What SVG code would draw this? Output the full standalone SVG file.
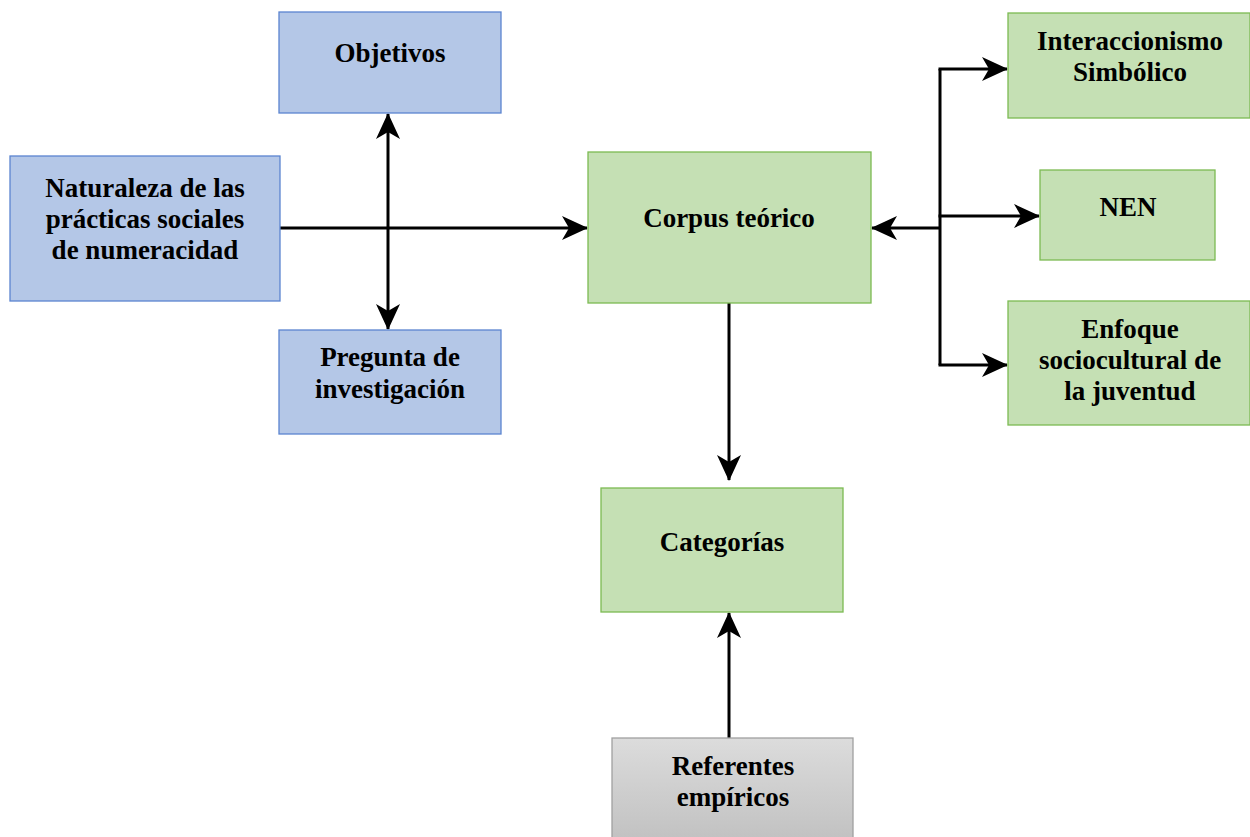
<svg xmlns="http://www.w3.org/2000/svg" width="1250" height="837" viewBox="0 0 1250 837">
<style>
.blue{fill:#b4c7e7;stroke:#5b84d0;stroke-width:1.3}
.green{fill:#c5e0b4;stroke:#7cbb52;stroke-width:1.3}
.gray{fill:url(#gg);stroke:#a0a0a0;stroke-width:1.3}
text{font-family:"Liberation Serif","Times New Roman",serif;font-weight:bold;font-size:27px;fill:#000;text-anchor:middle}
.c line,.c polyline{stroke:#000;stroke-width:3;fill:none}
</style>
<defs>
<linearGradient id="gg" x1="0" y1="0" x2="0" y2="1">
<stop offset="0" stop-color="#dcdcdc"/>
<stop offset="1" stop-color="#c2c2c2"/>
</linearGradient>
<marker id="ah" viewBox="0 0 26 24" refX="25" refY="12" markerWidth="26" markerHeight="24" markerUnits="userSpaceOnUse" orient="auto-start-reverse">
<path d="M0,0 L26,12 L0,24 L7,12 z" fill="#000"/>
</marker>
</defs>
<g class="c">
<line x1="280" y1="228" x2="587" y2="228" marker-end="url(#ah)"/>
<line x1="388" y1="114" x2="388" y2="329" marker-start="url(#ah)" marker-end="url(#ah)"/>
<line x1="940" y1="228" x2="872" y2="228" marker-end="url(#ah)"/>
<line x1="940" y1="69" x2="940" y2="365"/>
<line x1="938.5" y1="69" x2="1007" y2="69" marker-end="url(#ah)"/>
<line x1="938.5" y1="216" x2="1039" y2="216" marker-end="url(#ah)"/>
<line x1="938.5" y1="365" x2="1007" y2="365" marker-end="url(#ah)"/>
<line x1="729" y1="303" x2="729" y2="480" marker-end="url(#ah)"/>
<line x1="729" y1="738" x2="729" y2="613" marker-end="url(#ah)"/>
</g>
<g id="objetivos"><rect class="blue" x="279" y="12" width="222" height="101"/><text x="390" y="62">Objetivos</text></g>
<g id="naturaleza"><rect class="blue" x="10" y="156" width="270" height="145"/><text x="145" y="197">Naturaleza de las</text><text x="145" y="228">prácticas sociales</text><text x="145" y="259">de numeracidad</text></g>
<g id="pregunta"><rect class="blue" x="279" y="330" width="222" height="104"/><text x="390" y="366">Pregunta de</text><text x="390" y="398">investigación</text></g>
<g id="corpus"><rect class="green" x="588" y="152" width="283" height="151"/><text x="729" y="227">Corpus teórico</text></g>
<g id="interaccionismo"><rect class="green" x="1008" y="13" width="242" height="105"/><text x="1130" y="50">Interaccionismo</text><text x="1130" y="81">Simbólico</text></g>
<g id="nen"><rect class="green" x="1040" y="170" width="175" height="90"/><text x="1128" y="216">NEN</text></g>
<g id="enfoque"><rect class="green" x="1008" y="301" width="242" height="124"/><text x="1130" y="338">Enfoque</text><text x="1130" y="369">sociocultural de</text><text x="1130" y="400">la juventud</text></g>
<g id="categorias"><rect class="green" x="601" y="488" width="242" height="124"/><text x="722" y="551">Categorías</text></g>
<g id="referentes"><rect class="gray" x="612" y="738" width="241" height="100"/><text x="733" y="775">Referentes</text><text x="733" y="806">empíricos</text></g>
</svg>
